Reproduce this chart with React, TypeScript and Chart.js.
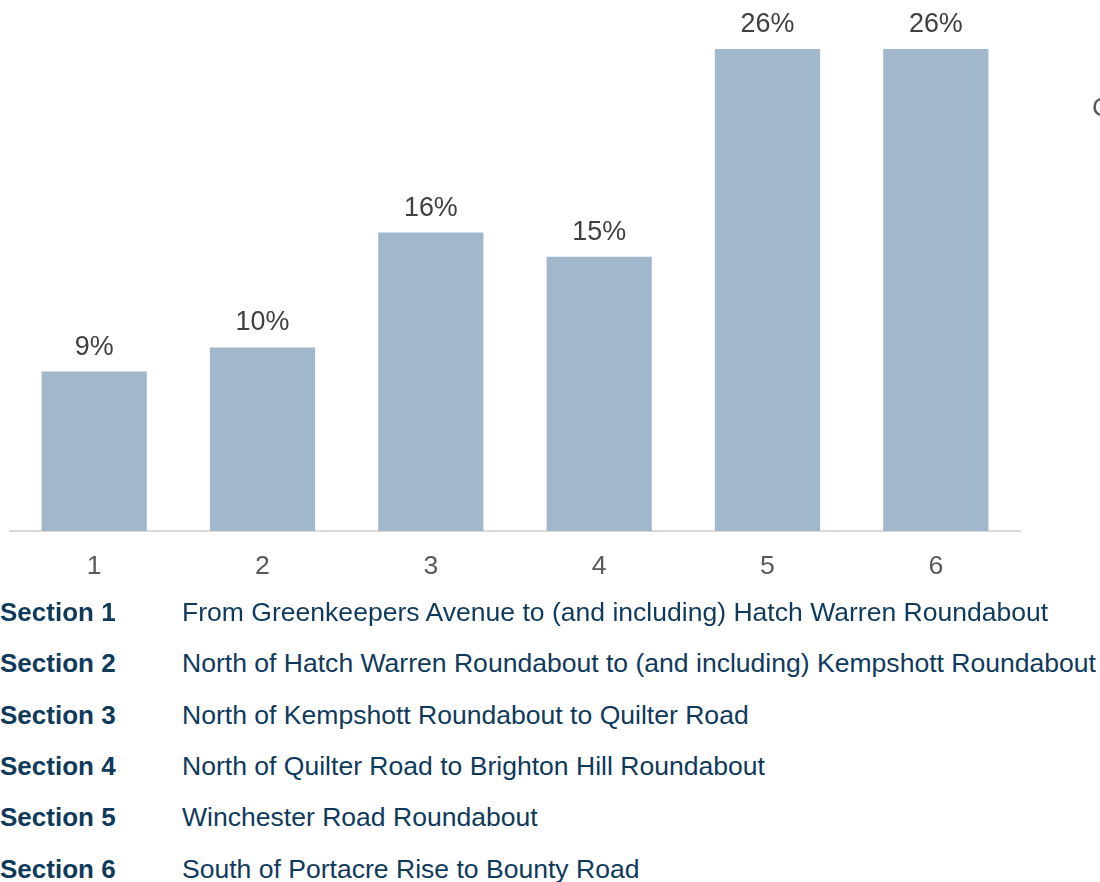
import React, { useEffect, useRef } from "react";
import { Chart, registerables } from "chart.js";

Chart.register(...registerables);

const categories = ["1", "2", "3", "4", "5", "6"];
const values = [8.6, 9.9, 16.1, 14.8, 26.0, 26.0];
const valueLabels = ["9%", "10%", "16%", "15%", "26%", "26%"];
const sectionNames = ["Section 1", "Section 2", "Section 3", "Section 4", "Section 5", "Section 6"];
const sectionDescriptions = [
  "From Greenkeepers Avenue to (and including) Hatch Warren Roundabout",
  "North of Hatch Warren Roundabout to (and including) Kempshott Roundabout",
  "North of Kempshott Roundabout to Quilter Road",
  "North of Quilter Road to Brighton Hill Roundabout",
  "Winchester Road Roundabout",
  "South of Portacre Rise to Bounty Road",
];

const FONT = "Arial, 'Liberation Sans', sans-serif";

const labelPlugin = {
  id: "valueLabels",
  afterDatasetsDraw(chart: any) {
    const ctx = chart.ctx;
    const meta = chart.getDatasetMeta(0);
    ctx.save();
    ctx.font = `26.9px ${FONT}`;
    ctx.fillStyle = "#404040";
    ctx.textAlign = "center";
    ctx.textBaseline = "alphabetic";
    meta.data.forEach((bar: any, i: number) => {
      ctx.fillText(valueLabels[i], bar.x, bar.y - 17);
    });
    ctx.restore();
  },
};

export default function App() {
  const ref = useRef<HTMLCanvasElement>(null);
  useEffect(() => {
    if (!ref.current) return;
    const chart = new Chart(ref.current, {
      type: "bar",
      data: {
        labels: categories,
        datasets: [
          {
            data: values,
            backgroundColor: "#A1B7CB",
            categoryPercentage: 1,
            barPercentage: 0.625,
          },
        ],
      },
      options: {
        animation: false,
        responsive: false,
        maintainAspectRatio: false,
        layout: { padding: { left: 10, right: 80, top: 12, bottom: 17 } },
        plugins: { legend: { display: false }, tooltip: { enabled: false } },
        scales: {
          x: {
            grid: { display: false, drawTicks: false },
            border: { display: true, color: "#D9D9D9", width: 2 },
            ticks: {
              color: "#595959",
              font: { size: 26.67, family: FONT },
              padding: 20,
            },
          },
          y: {
            display: false,
            min: 0,
            max: 28,
          },
        },
      },
      plugins: [labelPlugin],
    });
    return () => chart.destroy();
  }, []);

  return (
    <div
      style={{
        position: "absolute",
        left: 0,
        top: 0,
        width: 1100,
        height: 882,
        overflow: "hidden",
        background: "#fff",
        fontFamily: FONT,
      }}
    >
      <canvas ref={ref} width={1100} height={620} style={{ position: "absolute", left: 0, top: 0, width: 1100, height: 620 }} />
      <span style={{ position: "absolute", left: 1092, top: 92, fontSize: 26.67, color: "#595959", whiteSpace: "nowrap" }}>C</span>
      {sectionNames.map((name, i) => (
        <div
          key={name}
          style={{
            position: "absolute",
            left: 0,
            top: 596 + i * 51.3,
            height: 32,
            lineHeight: "32px",
            color: "#0F3A5C",
            whiteSpace: "nowrap",
          }}
        >
          <span style={{ fontWeight: "bold", fontSize: 26, position: "absolute", left: 0 }}>{name}</span>
          <span style={{ fontSize: 26.55, position: "absolute", left: 182 }}>{sectionDescriptions[i]}</span>
        </div>
      ))}
    </div>
  );
}
